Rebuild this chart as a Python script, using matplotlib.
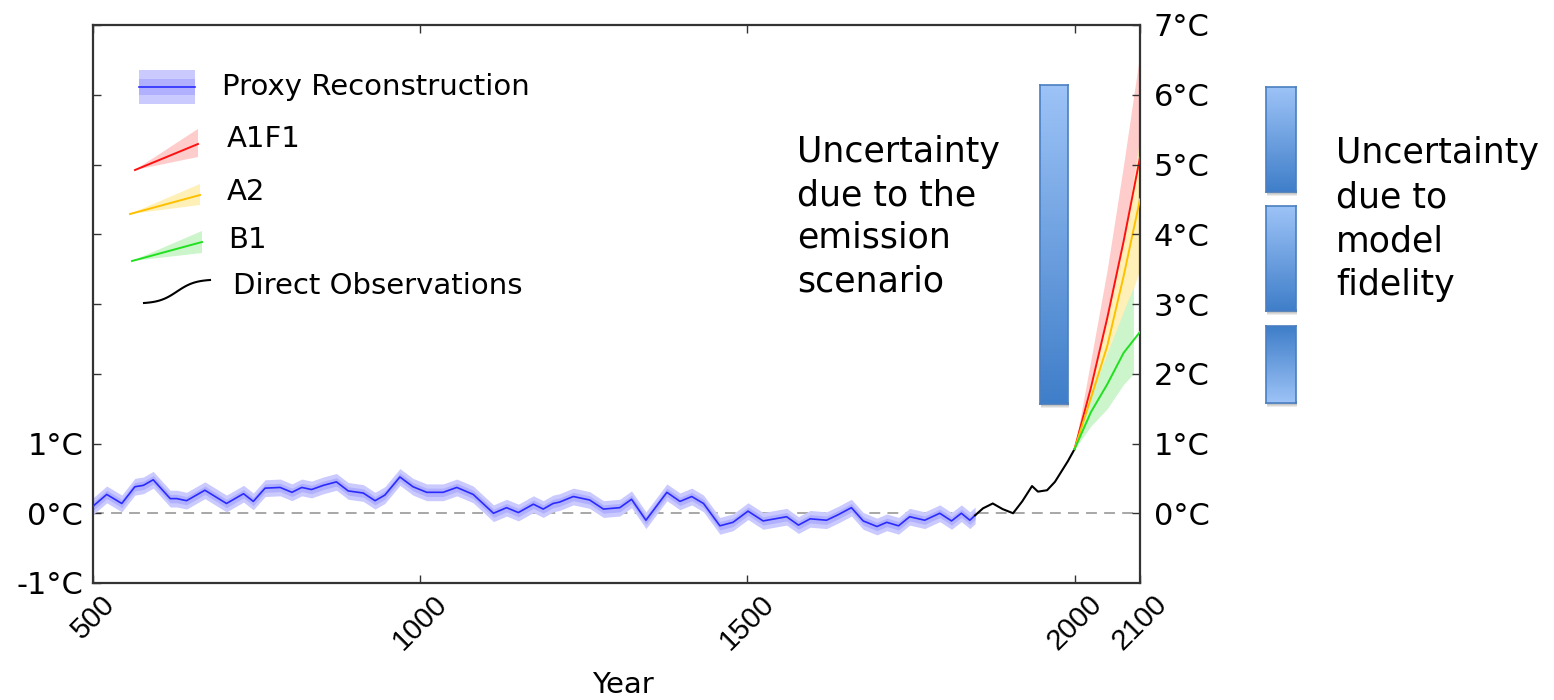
import numpy as np
import matplotlib.pyplot as plt
from matplotlib.transforms import Affine2D
from matplotlib.colors import to_rgb

# proxy reconstruction (years, deg C anomaly)
proxy_years = [500, 521, 544, 564, 577, 592, 618, 628, 643, 671,
               704, 730, 745, 763, 786, 804, 819, 834, 852, 872,
               890, 913, 931, 946, 969, 989, 1010, 1035, 1056, 1081,
               1112, 1132, 1150, 1173, 1188, 1203, 1213, 1234, 1259, 1280,
               1305, 1323, 1345, 1377, 1397, 1415, 1433, 1458, 1478, 1501,
               1524, 1560, 1578, 1596, 1621, 1639, 1659, 1677, 1698, 1713,
               1731, 1748, 1771, 1794, 1812, 1827, 1840, 1848]
proxy_vals = [0.10, 0.27, 0.14, 0.38, 0.40, 0.48, 0.21, 0.21, 0.18, 0.33,
              0.14, 0.28, 0.17, 0.36, 0.37, 0.30, 0.37, 0.34, 0.40, 0.45,
              0.32, 0.29, 0.18, 0.26, 0.52, 0.38, 0.30, 0.30, 0.37, 0.27,
              0.00, 0.08, 0.01, 0.13, 0.06, 0.14, 0.16, 0.24, 0.19, 0.06,
              0.08, 0.20, -0.10, 0.30, 0.17, 0.24, 0.14, -0.18, -0.13, 0.03,
              -0.11, -0.05, -0.17, -0.08, -0.10, -0.02, 0.08, -0.11, -0.19, -0.13,
              -0.18, -0.05, -0.10, 0.00, -0.11, 0.00, -0.10, -0.03]
proxy_err_outer = 0.12
proxy_err_inner = 0.06

# direct observations
obs_years = [1848, 1860, 1875, 1890, 1906, 1920, 1935, 1944, 1958, 1970, 1980, 1990, 2000]
obs_vals = [-0.03, 0.07, 0.14, 0.06, 0.00, 0.17, 0.39, 0.31, 0.33, 0.45, 0.60, 0.75, 0.92]

# scenarios
scen_years = [2000, 2025, 2050, 2075, 2100]
a1f1 = [0.92, 1.8, 2.8, 3.9, 5.1]
a1f1_lo = [0.92, 1.6, 2.4, 3.2, 4.0]
a1f1_hi = [0.92, 2.2, 3.5, 5.0, 6.6]
a2 = [0.92, 1.65, 2.4, 3.4, 4.5]
a2_lo = [0.92, 1.5, 2.1, 2.8, 3.5]
a2_hi = [0.92, 1.9, 2.8, 3.9, 5.4]
b1 = [0.92, 1.45, 1.85, 2.3, 2.6]
b1_band_years = [2000, 2025, 2050, 2075, 2090]
b1_lo = [0.92, 1.25, 1.5, 1.85, 2.0]
b1_hi = [0.92, 1.7, 2.3, 2.9, 3.25]

xticks = [500, 1000, 1500, 2000, 2100]
left_labels = ['-1°C', '0°C', '1°C', '', '', '', '', '', '']
right_labels = ['%d°C' % v for v in range(0, 8)]

W, H = 1554, 700
fig = plt.figure(figsize=(15.54, 7.0), dpi=100)
ax = fig.add_axes([93 / W, 1 - 583 / H, (1140 - 93) / W, (583 - 25) / H])
px = Affine2D().scale(1 / W, -1 / H).translate(0, 1) + fig.transFigure

ax.set_xlim(500, 2100)
ax.set_ylim(-1, 7)
ax.axhline(0, color='#a0a0a0', lw=1.3, ls=(0, (6, 4)), zorder=1)

p = np.array(proxy_vals)
ax.fill_between(proxy_years, p - proxy_err_outer, p + proxy_err_outer, color='#cacaff', lw=0, zorder=2)
ax.fill_between(proxy_years, p - proxy_err_inner, p + proxy_err_inner, color='#b0b0ff', lw=0, zorder=2)
ax.plot(proxy_years, proxy_vals, color='#2a2aff', lw=1.2, zorder=3, solid_joinstyle='round')

ax.plot(obs_years, obs_vals, color='black', lw=1.5, zorder=3, solid_joinstyle='round')

ax.fill_between(scen_years, a1f1_lo, a1f1_hi, color='#ffcccc', lw=0, zorder=2)
ax.fill_between(scen_years, a2_lo, a2_hi, color='#fff0b8', lw=0, zorder=2)
ax.fill_between(b1_band_years, b1_lo, b1_hi, color='#ccf5cc', lw=0, zorder=2)
ax.plot(scen_years, a1f1, color='#ff1010', lw=1.4, zorder=3)
ax.plot(scen_years, a2, color='#ffc000', lw=1.4, zorder=3)
ax.plot(scen_years, b1, color='#20e020', lw=1.4, zorder=3)

# axes styling
for s in ax.spines.values():
    s.set_color('#333333')
    s.set_linewidth(1.6)
ax.set_xticks(xticks)
ax.set_xticklabels([str(v) for v in xticks], rotation=45, ha='center', va='top',
                   fontsize=21, family='Liberation Sans')
ax.set_yticks(range(-1, 8))
ax.set_yticklabels(left_labels, fontsize=22)
ax.tick_params(direction='in', length=6, width=1, top=True, color='#333333')
ax.tick_params(axis='x', pad=5)
ax.tick_params(axis='y', pad=7)

ax2 = ax.twinx()
ax2.set_ylim(-1, 7)
ax2.set_yticks(range(0, 8))
ax2.set_yticklabels(right_labels, fontsize=22)
ax2.tick_params(direction='in', length=6, width=1, pad=10, color='#333333')
for s in ax2.spines.values():
    s.set_visible(False)

fig.text(623 / W, 1 - 685 / H, 'Year', ha='center', va='center', fontsize=21, family='DejaVu Sans')

# legend glyphs (pixel coords)
ax.fill([139, 195, 195, 139], [70, 70, 104, 104], color='#cacaff', transform=px, lw=0)
ax.fill([139, 195, 195, 139], [79, 79, 95, 95], color='#b0b0ff', transform=px, lw=0)
ax.plot([139, 195], [87, 87], color='#2a2aff', lw=1.2, transform=px)
for (x0, y0, x1, yl, yh, ym), fc, lc in [((135, 170, 198, 129, 157, 144), '#ffcccc', '#ff1010'),
                                        ((130, 214, 200, 184, 205, 195), '#fff0b8', '#ffc000'),
                                        ((132, 261, 202, 231, 253, 242), '#ccf5cc', '#20e020')]:
    ax.fill([x0, x1, x1], [y0, yl, yh], color=fc, transform=px, lw=0)
    ax.plot([x0, x1], [y0, ym], color=lc, lw=1.4, transform=px)
t = np.linspace(-1, 1, 30)
ax.plot(177 + 33 * t, 291.5 - 11.5 * np.tanh(1.8 * t) / np.tanh(1.8), color='black', lw=1.5, transform=px)

leg_font = dict(fontsize=21, family='DejaVu Sans', va='center', ha='left', transform=px)
ax.text(222, 87, 'Proxy Reconstruction', **leg_font)
ax.text(227, 139, 'A1F1', **leg_font)
ax.text(227, 192, 'A2', **leg_font)
ax.text(228, 240, 'B1', **leg_font)
ax.text(233, 286, 'Direct Observations', **leg_font)

# uncertainty bars
light = np.array(to_rgb('#9dc3f7'))
dark = np.array(to_rgb('#3f7ec9'))


def grad_bar(x0, y0, x1, y1, light_top=True):
    sh = fig.add_axes([(x0 + 1) / W, 1 - (y1 + 5) / H, (x1 - x0) / W, 7 / H])
    sh.axis('off')
    sh.imshow(np.dstack([np.linspace(0.55, 1, 7)[:, None]] * 3), aspect='auto')
    b = fig.add_axes([x0 / W, 1 - y1 / H, (x1 - x0) / W, (y1 - y0) / H])
    f = np.linspace(0, 1, 200)[:, None]
    if not light_top:
        f = f[::-1]
    img = (light[None, None, :] * (1 - f[:, :, None]) + dark[None, None, :] * f[:, :, None])
    b.imshow(img, aspect='auto', extent=[0, 1, 0, 1])
    b.set_xticks([])
    b.set_yticks([])
    for s in b.spines.values():
        s.set_color('#4a7fc0')
        s.set_linewidth(1.2)


grad_bar(1040, 85, 1068, 404)
grad_bar(1266, 87, 1296, 192)
grad_bar(1266, 206, 1296, 311)
grad_bar(1266, 326, 1296, 403, light_top=False)

ann_font = dict(fontsize=25, ha='left', va='baseline', transform=px)
for i, line in enumerate(['Uncertainty', 'due to the', 'emission', 'scenario']):
    ax.text(797, 162 + 43 * i, line, **ann_font)
for i, line in enumerate(['Uncertainty', 'due to', 'model', 'fidelity']):
    ax.text(1336, 163 + 44 * i, line, **ann_font)

fig.savefig('out.png', dpi=100)
